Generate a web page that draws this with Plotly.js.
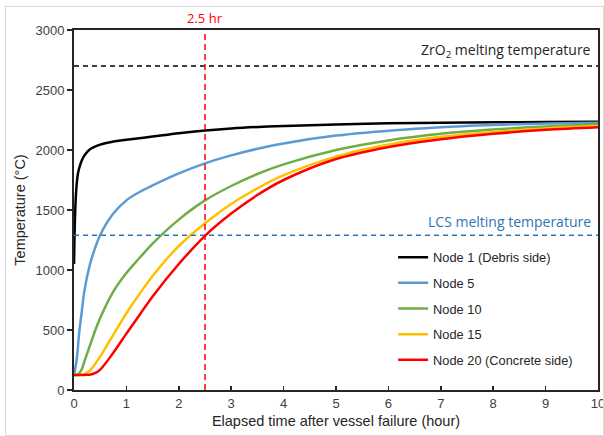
<!DOCTYPE html>
<html>
<head>
<meta charset="utf-8">
<script src="https://cdn.plot.ly/plotly-3.0.1.min.js"></script>
<style>
  html, body { margin: 0; padding: 0; background: #fff; }
  #chart { width: 604px; height: 436px; }
  #frame { position: absolute; left: 5px; top: 6px; width: 597px; height: 428px; border: 1px solid #d9d9d9; pointer-events: none; }
</style>
</head>
<body>
<div id="chart"></div>
<div id="frame"></div>
<script>
// ---- data ----
const timeNode1 = [0, 0.02, 0.04, 0.07, 0.1, 0.15, 0.2, 0.3, 0.5, 0.75, 1, 1.5, 2, 2.5, 3, 4, 5, 6, 7, 8, 9, 10];
const node1     = [1050, 1450, 1650, 1790, 1850, 1915, 1955, 2005, 2045, 2070, 2085, 2112, 2140, 2163, 2180, 2200, 2212, 2222, 2228, 2231, 2233, 2235];

const timeNodes = [0, 0.05, 0.1, 0.15, 0.2, 0.3, 0.4, 0.5, 0.75, 1, 1.25, 1.5, 2, 2.5, 3, 3.5, 4, 5, 6, 7, 8, 9, 10];
const node5  = [125, 250, 480, 660, 830, 1040, 1180, 1292, 1470, 1580, 1650, 1705, 1805, 1889, 1955, 2010, 2055, 2120, 2160, 2190, 2208, 2220, 2228];
const node10 = [125, 127, 140, 175, 240, 365, 490, 600, 820, 975, 1100, 1220, 1420, 1580, 1700, 1800, 1880, 2000, 2080, 2135, 2170, 2195, 2215];
const node15 = [125, 125, 126, 128, 135, 160, 215, 280, 460, 640, 800, 950, 1200, 1390, 1550, 1680, 1790, 1945, 2045, 2110, 2150, 2180, 2200];
const node20 = [125, 125, 125, 125, 126, 128, 140, 170, 310, 470, 625, 780, 1050, 1285, 1470, 1625, 1750, 1925, 2025, 2090, 2135, 2168, 2190];

const seriesNames  = ["Node 1 (Debris side)", "Node 5", "Node 10", "Node 15", "Node 20 (Concrete side)"];
const seriesColors = ["#000000", "#5B9BD5", "#70AD47", "#FFC000", "#FF0000"];

const zro2Melt = 2700;
const lcsMelt = 1290;
const markTime = 2.5;
const xTicks = [0, 1, 2, 3, 4, 5, 6, 7, 8, 9, 10];
const yTicks = [0, 500, 1000, 1500, 2000, 2500, 3000];

// ---- traces ----
const xs = [timeNode1, timeNodes, timeNodes, timeNodes, timeNodes];
const ys = [node1, node5, node10, node15, node20];
const traces = ys.map((y, i) => ({
  x: xs[i], y: y, type: 'scatter', mode: 'lines',
  name: seriesNames[i], legendgroup: 'g' + i,
  line: { color: seriesColors[i], width: 2.5, shape: 'spline', smoothing: 1 },
  hoverinfo: 'skip'
}));

const layout = {
  width: 604, height: 436,
  margin: { l: 74, r: 6, t: 30, b: 46 },
  paper_bgcolor: '#ffffff', plot_bgcolor: '#ffffff',
  font: { family: '"Liberation Sans", Arial, sans-serif', size: 13, color: '#404040' },
  showlegend: true,
  legend: {
    x: 0.609, y: 0.41, xanchor: 'left', yanchor: 'top',
    bgcolor: 'rgba(0,0,0,0)', borderwidth: 0,
    font: { family: '"Liberation Sans", Arial, sans-serif', size: 12.8, color: '#262626' },
    traceorder: 'grouped', tracegroupgap: 6
  },
  xaxis: {
    range: [0, 10], tickvals: xTicks, ticktext: xTicks.map(String),
    showgrid: false, zeroline: false,
    showline: true, linecolor: '#262626', linewidth: 2, mirror: true,
    ticks: 'inside', ticklen: 4, tickcolor: '#262626', tickwidth: 1.5,
    ticklabeloverflow: 'allow',
    tickfont: { family: '"Liberation Sans", Arial, sans-serif', size: 13, color: '#404040' },
    title: { text: 'Elapsed time after vessel failure (hour)', font: { family: '"Liberation Sans", Arial, sans-serif', size: 14.5, color: '#262626' }, standoff: 6 }
  },
  yaxis: {
    range: [0, 3000], tickvals: yTicks, ticktext: yTicks.map(String),
    showgrid: false, zeroline: false,
    showline: true, linecolor: '#262626', linewidth: 2, mirror: true,
    ticks: 'outside', ticklen: 5, tickcolor: '#262626', tickwidth: 1.5,
    ticklabeloverflow: 'allow',
    tickfont: { family: '"Liberation Sans", Arial, sans-serif', size: 13, color: '#404040' },
    title: { text: 'Temperature (°C)', font: { family: '"Liberation Sans", Arial, sans-serif', size: 14.5, color: '#262626' }, standoff: 6 }
  },
  shapes: [
    { type: 'line', xref: 'x', yref: 'y', x0: 0, x1: 10, y0: zro2Melt, y1: zro2Melt,
      line: { color: '#000000', width: 1.5, dash: '5px,4px' } },
    { type: 'line', xref: 'x', yref: 'y', x0: 0, x1: 10, y0: lcsMelt, y1: lcsMelt,
      line: { color: '#2E75B6', width: 1.5, dash: '5px,4px' } },
    { type: 'line', xref: 'x', yref: 'paper', x0: markTime, x1: markTime, y0: 0, y1: 1,
      line: { color: '#FF0000', width: 1.5, dash: '6px,4px' } }
  ],
  annotations: [
    { xref: 'x', yref: 'paper', x: markTime, y: 1, yanchor: 'bottom', xanchor: 'center', yshift: 1,
      text: '2.5 hr', showarrow: false, font: { family: '"Open Sans", sans-serif', size: 13, color: '#FF0000' } },
    { xref: 'paper', yref: 'y', x: 0.99, y: zro2Melt, xanchor: 'right', yanchor: 'bottom', yshift: 3,
      text: 'ZrO<sub>2</sub> melting temperature', showarrow: false, font: { family: '"Open Sans", sans-serif', size: 14, color: '#262626' } },
    { xref: 'paper', yref: 'y', x: 0.99, y: lcsMelt, xanchor: 'right', yanchor: 'bottom', yshift: 2,
      text: 'LCS melting temperature', showarrow: false, font: { family: '"Open Sans", sans-serif', size: 14, color: '#2E75B6' } }
  ]
};

Plotly.newPlot('chart', traces, layout, { staticPlot: true, displayModeBar: false });
</script>
</body>
</html>
